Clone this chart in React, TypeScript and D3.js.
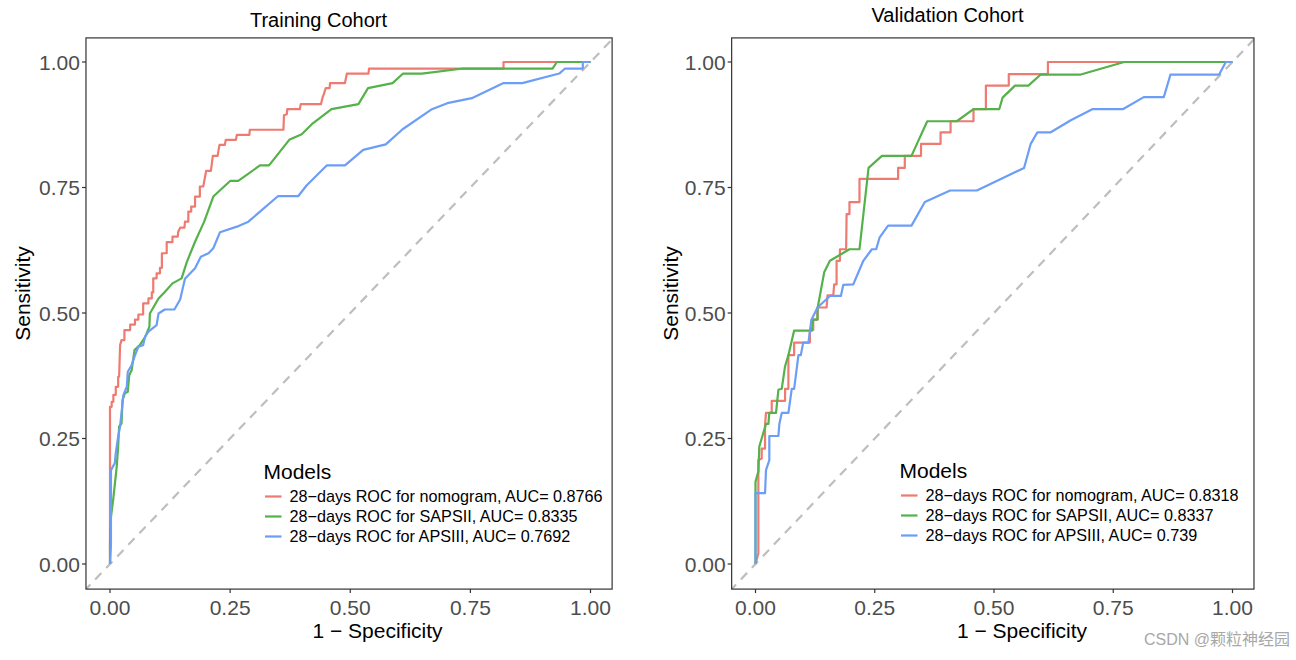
import React from "react";
import * as d3 from "d3";

type Pt = [number, number];

// ---------- data (1 - specificity, sensitivity) ----------
const trainNomogram: Pt[] = [
  [0, 0], [0, 0.313], [0.0035, 0.313], [0.0035, 0.323], [0.007, 0.323], [0.007, 0.337],
  [0.012, 0.337], [0.012, 0.353], [0.017, 0.353], [0.017, 0.373], [0.019, 0.373], [0.021, 0.436],
  [0.024, 0.446], [0.03, 0.446], [0.03, 0.466], [0.042, 0.466], [0.042, 0.477], [0.052, 0.477],
  [0.052, 0.487], [0.059, 0.487], [0.059, 0.497], [0.069, 0.497], [0.069, 0.519], [0.08, 0.519],
  [0.08, 0.529], [0.087, 0.529], [0.087, 0.541], [0.09, 0.541], [0.09, 0.569], [0.097, 0.569],
  [0.097, 0.579], [0.104, 0.579], [0.104, 0.59], [0.108, 0.59], [0.108, 0.619], [0.118, 0.619],
  [0.118, 0.641], [0.13, 0.641], [0.13, 0.652], [0.141, 0.652], [0.142, 0.662], [0.146, 0.67],
  [0.155, 0.67], [0.156, 0.682], [0.163, 0.682], [0.163, 0.702], [0.169, 0.702], [0.169, 0.712],
  [0.177, 0.712], [0.177, 0.732], [0.187, 0.732], [0.187, 0.752], [0.194, 0.752], [0.196, 0.762],
  [0.198, 0.772], [0.2, 0.783], [0.21, 0.783], [0.214, 0.813], [0.224, 0.813], [0.226, 0.825],
  [0.228, 0.835], [0.239, 0.835], [0.241, 0.845], [0.262, 0.845], [0.264, 0.855], [0.29, 0.855],
  [0.291, 0.865], [0.361, 0.865], [0.362, 0.894], [0.368, 0.896], [0.369, 0.906], [0.395, 0.906],
  [0.397, 0.916], [0.439, 0.916], [0.442, 0.928], [0.445, 0.936], [0.449, 0.948], [0.457, 0.948],
  [0.458, 0.958], [0.489, 0.958], [0.493, 0.977], [0.538, 0.977], [0.539, 0.987], [0.819, 0.987],
  [0.819, 1.0], [1, 1],
];

const trainSapsii: Pt[] = [
  [0, 0], [0, 0.041], [0.002, 0.094], [0.007, 0.131], [0.014, 0.194], [0.017, 0.234],
  [0.019, 0.274], [0.024, 0.28], [0.026, 0.327], [0.031, 0.34], [0.037, 0.343], [0.04, 0.376],
  [0.045, 0.386], [0.051, 0.426], [0.062, 0.436], [0.073, 0.452], [0.082, 0.473], [0.083, 0.499],
  [0.101, 0.529], [0.114, 0.542], [0.13, 0.559], [0.149, 0.569], [0.16, 0.602], [0.177, 0.642],
  [0.196, 0.682], [0.215, 0.732], [0.25, 0.763], [0.267, 0.763], [0.312, 0.794], [0.331, 0.794],
  [0.373, 0.845], [0.399, 0.856], [0.42, 0.876], [0.461, 0.906], [0.517, 0.916], [0.537, 0.948],
  [0.588, 0.958], [0.61, 0.977], [0.649, 0.977], [0.735, 0.987], [0.921, 0.987], [0.93, 1.0],
  [0.985, 1.0], [1, 1],
];

const trainApsiii: Pt[] = [
  [0, 0], [0.002, 0.038], [0.002, 0.187], [0.01, 0.201], [0.012, 0.221], [0.017, 0.254],
  [0.021, 0.274], [0.028, 0.337], [0.035, 0.353], [0.037, 0.383], [0.045, 0.396], [0.051, 0.413],
  [0.059, 0.433], [0.069, 0.436], [0.073, 0.453], [0.08, 0.463], [0.097, 0.476], [0.101, 0.499],
  [0.114, 0.507], [0.134, 0.507], [0.146, 0.527], [0.156, 0.568], [0.177, 0.589], [0.189, 0.612],
  [0.205, 0.619], [0.215, 0.629], [0.229, 0.661], [0.264, 0.672], [0.288, 0.682], [0.35, 0.733],
  [0.392, 0.733], [0.409, 0.754], [0.451, 0.794], [0.489, 0.794], [0.527, 0.825], [0.574, 0.836],
  [0.609, 0.866], [0.67, 0.906], [0.702, 0.918], [0.753, 0.928], [0.819, 0.958], [0.858, 0.958],
  [0.935, 0.977], [0.947, 0.987], [0.984, 0.987], [0.984, 1.0], [1, 1],
];

const validNomogram: Pt[] = [
  [0, 0], [0.006, 0.021], [0.006, 0.207], [0.013, 0.21], [0.013, 0.23], [0.02, 0.23],
  [0.02, 0.277], [0.022, 0.301], [0.034, 0.301], [0.034, 0.325], [0.062, 0.325], [0.062, 0.349],
  [0.069, 0.349], [0.069, 0.416], [0.081, 0.416], [0.081, 0.441], [0.114, 0.441], [0.114, 0.466],
  [0.121, 0.466], [0.121, 0.487], [0.13, 0.487], [0.13, 0.511], [0.149, 0.511], [0.151, 0.535],
  [0.163, 0.535], [0.165, 0.557], [0.17, 0.557], [0.17, 0.604], [0.177, 0.604], [0.177, 0.627],
  [0.19, 0.627], [0.191, 0.697], [0.197, 0.697], [0.197, 0.721], [0.218, 0.721], [0.218, 0.767],
  [0.299, 0.767], [0.299, 0.789], [0.313, 0.789], [0.313, 0.813], [0.347, 0.813], [0.347, 0.837],
  [0.388, 0.837], [0.388, 0.86], [0.409, 0.86], [0.409, 0.882], [0.457, 0.882], [0.457, 0.906],
  [0.483, 0.906], [0.483, 0.953], [0.531, 0.953], [0.531, 0.976], [0.613, 0.976], [0.613, 1.0],
  [1, 1],
];

const validSapsii: Pt[] = [
  [0, 0], [0, 0.164], [0.006, 0.184], [0.008, 0.234], [0.022, 0.279], [0.027, 0.279],
  [0.029, 0.301], [0.043, 0.301], [0.048, 0.347], [0.055, 0.349], [0.062, 0.394], [0.069, 0.416],
  [0.081, 0.465], [0.118, 0.465], [0.121, 0.487], [0.13, 0.487], [0.13, 0.509], [0.144, 0.581],
  [0.156, 0.604], [0.197, 0.627], [0.218, 0.627], [0.237, 0.789], [0.265, 0.813], [0.327, 0.813],
  [0.36, 0.882], [0.422, 0.882], [0.457, 0.906], [0.511, 0.906], [0.518, 0.929], [0.544, 0.953],
  [0.572, 0.953], [0.598, 0.975], [0.682, 0.975], [0.773, 1.0], [1, 1],
];

const validApsiii: Pt[] = [
  [0, 0], [0, 0.141], [0.02, 0.141], [0.022, 0.187], [0.029, 0.207], [0.029, 0.255],
  [0.048, 0.255], [0.05, 0.279], [0.055, 0.301], [0.069, 0.301], [0.076, 0.349], [0.081, 0.349],
  [0.09, 0.416], [0.095, 0.416], [0.1, 0.441], [0.111, 0.441], [0.117, 0.486], [0.13, 0.511],
  [0.156, 0.534], [0.179, 0.534], [0.184, 0.556], [0.205, 0.557], [0.226, 0.604], [0.244, 0.627],
  [0.253, 0.627], [0.26, 0.65], [0.278, 0.674], [0.327, 0.674], [0.355, 0.721], [0.408, 0.744],
  [0.464, 0.744], [0.534, 0.776], [0.563, 0.789], [0.577, 0.837], [0.591, 0.86], [0.619, 0.86],
  [0.661, 0.884], [0.706, 0.906], [0.77, 0.906], [0.814, 0.93], [0.856, 0.93], [0.87, 0.975],
  [0.972, 0.975], [0.986, 1.0], [1, 1],
];

const tickValues = [0, 0.25, 0.5, 0.75, 1];
const tickLabels = ["0.00", "0.25", "0.50", "0.75", "1.00"];
const panelTitles = ["Training Cohort", "Validation Cohort"];
const legendTitle = "Models";
const trainLegendLabels = [
  "28\u2212days ROC for nomogram, AUC= 0.8766",
  "28\u2212days ROC for SAPSII, AUC= 0.8335",
  "28\u2212days ROC for APSIII, AUC= 0.7692",
];
const validLegendLabels = [
  "28\u2212days ROC for nomogram, AUC= 0.8318",
  "28\u2212days ROC for SAPSII, AUC= 0.8337",
  "28\u2212days ROC for APSIII, AUC= 0.739",
];
const xTitle = "1 \u2212 Specificity";
const yTitle = "Sensitivity";
const watermark = "CSDN @颗粒神经园";

const colors = ["#EE7B71", "#55B14A", "#6C9DF7"];
const FONT = "'Liberation Sans', Arial, Helvetica, sans-serif";

interface PanelCfg {
  id: string;
  x0: number; // pixel of fpr 0
  x1: number; // pixel of fpr 1
  title: string;
  titleX: number;
  titleY: number;
  xTitleX: number;
  yTitleX: number;
  series: Pt[][];
  legend: string[];
  legendX: number;
  legendY: number;
}

const panels: PanelCfg[] = [
  {
    id: "train",
    x0: 110,
    x1: 590.5,
    title: panelTitles[0],
    titleX: 318.5,
    titleY: 27,
    xTitleX: 377.5,
    yTitleX: 22,
    series: [trainNomogram, trainSapsii, trainApsiii],
    legend: trainLegendLabels,
    legendX: 263.5,
    legendY: 471.5,
  },
  {
    id: "valid",
    x0: 755.5,
    x1: 1232.5,
    title: panelTitles[1],
    titleX: 947.5,
    titleY: 22,
    xTitleX: 1022,
    yTitleX: 670,
    series: [validNomogram, validSapsii, validApsiii],
    legend: validLegendLabels,
    legendX: 899.5,
    legendY: 470.5,
  },
];

function Panel({ p }: { p: PanelCfg }) {
  const x = d3.scaleLinear().domain([0, 1]).range([p.x0, p.x1]);
  const y = d3.scaleLinear().domain([0, 1]).range([564, 62]);
  const left = x(-0.05);
  const right = x(1.045);
  const top = y(1.048);
  const bottom = y(-0.05);
  const line = d3
    .line<Pt>()
    .x((d) => x(d[0]))
    .y((d) => y(d[1]));
  const clipId = `clip-${p.id}`;
  const yMid = (top + bottom) / 2 - 20;
  return (
    <g>
      <defs>
        <clipPath id={clipId}>
          <rect x={left} y={top} width={right - left} height={bottom - top} />
        </clipPath>
      </defs>
      <rect x={left} y={top} width={right - left} height={bottom - top} fill="#fff" />
      <g clipPath={`url(#${clipId})`}>
        <line
          x1={x(-0.1)}
          y1={y(-0.1)}
          x2={x(1.1)}
          y2={y(1.1)}
          stroke="#BEBEBE"
          strokeWidth={2.2}
          strokeDasharray="9,7"
        />
        {p.series.map((s, i) => (
          <path
            key={i}
            d={line(s) || ""}
            fill="none"
            stroke={colors[i]}
            strokeWidth={2.2}
            strokeLinejoin="round"
          />
        ))}
      </g>
      <rect
        x={left}
        y={top}
        width={right - left}
        height={bottom - top}
        fill="none"
        stroke="#333333"
        strokeWidth={1.2}
      />
      {tickValues.map((v, i) => (
        <g key={`yt${i}`}>
          <line x1={left - 4} x2={left} y1={y(v)} y2={y(v)} stroke="#333333" strokeWidth={1.2} />
          <text
            x={left - 6}
            y={y(v) + 7.5}
            textAnchor="end"
            fontSize={21}
            fill="#4D4D4D"
            fontFamily={FONT}
          >
            {tickLabels[i]}
          </text>
        </g>
      ))}
      {tickValues.map((v, i) => (
        <g key={`xt${i}`}>
          <line x1={x(v)} x2={x(v)} y1={bottom} y2={bottom + 4} stroke="#333333" strokeWidth={1.2} />
          <text
            x={x(v)}
            y={615}
            textAnchor="middle"
            fontSize={21}
            fill="#4D4D4D"
            fontFamily={FONT}
          >
            {tickLabels[i]}
          </text>
        </g>
      ))}
      <text x={p.titleX} y={p.titleY} textAnchor="middle" fontSize={20} fill="#000" fontFamily={FONT}>
        {p.title}
      </text>
      <text x={p.xTitleX} y={638} textAnchor="middle" fontSize={21} fill="#000" fontFamily={FONT}>
        {xTitle}
      </text>
      <text
        transform={`translate(${p.yTitleX + 7.5},${yMid}) rotate(-90)`}
        textAnchor="middle"
        fontSize={21}
        fill="#000"
        fontFamily={FONT}
      >
        {yTitle}
      </text>
      <g>
        <text x={p.legendX} y={p.legendY + 7.5} fontSize={21} fill="#000" fontFamily={FONT}>
          {legendTitle}
        </text>
        {p.legend.map((lab, i) => {
          const cy = p.legendY + 25 + i * 20;
          return (
            <g key={i}>
              <line
                x1={p.legendX + 1.5}
                x2={p.legendX + 18}
                y1={cy}
                y2={cy}
                stroke={colors[i]}
                strokeWidth={2.2}
              />
              <text x={p.legendX + 26} y={cy + 5.8} fontSize={16.2} fill="#000" fontFamily={FONT}>
                {lab}
              </text>
            </g>
          );
        })}
      </g>
    </g>
  );
}

export default function App() {
  return (
    <svg
      width={1296}
      height={660}
      style={{ position: "absolute", left: 0, top: 0, background: "#fff" }}
    >
      <rect x={0} y={0} width={1296} height={660} fill="#fff" />
      {panels.map((p) => (
        <Panel key={p.id} p={p} />
      ))}
      <text
        x={1290}
        y={645}
        textAnchor="end"
        fontSize={16}
        fill="#A8A8A8"
        fontFamily={`${FONT}, 'Noto Sans CJK SC'`}
      >
        {watermark}
      </text>
    </svg>
  );
}
